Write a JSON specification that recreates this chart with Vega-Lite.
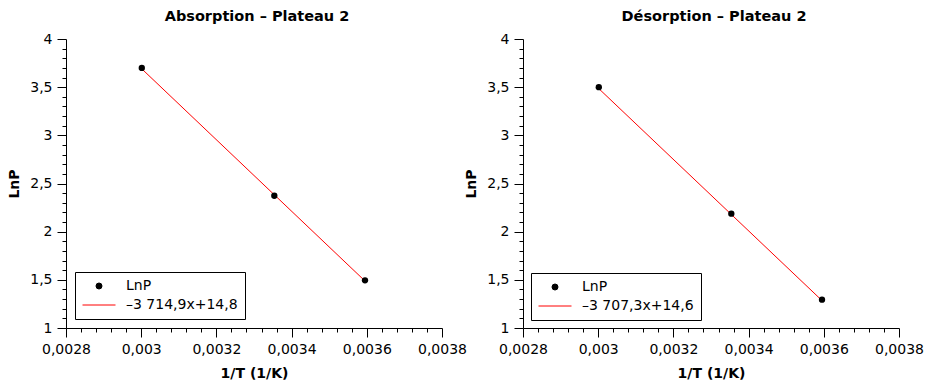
{
  "$schema": "https://vega.github.io/schema/vega-lite/v6.json",
  "background": "white",
  "padding": {"left": 7, "top": 8, "right": 4, "bottom": 4},
  "bounds": "flush",
  "spacing": 81,
  "config": {
    "font": "DejaVu Sans",
    "view": {"stroke": null},
    "axis": {
      "grid": false,
      "domainColor": "black",
      "tickColor": "black",
      "labelColor": "black",
      "titleColor": "black",
      "labelFontSize": 14,
      "titleFontSize": 14,
      "titleFontWeight": "bold",
      "labelFont": "DejaVu Sans",
      "titleFont": "DejaVu Sans",
      "labelOverlap": false,
      "labelFlush": false,
      "labelBound": false,
      "ticks": true,
      "tickOpacity": 1,
      "tickWidth": 1
    },
    "title": {"fontSize": 14.5, "fontWeight": "bold", "font": "DejaVu Sans", "color": "black", "offset": 8, "frame": "group", "dx": 3},
    "legend": {
      "strokeColor": "black",
      "fillColor": "white",
      "padding": 7,
      "orient": "bottom-left",
      "offset": 9,
      "labelFontSize": 14,
      "labelFont": "DejaVu Sans",
      "labelColor": "black",
      "symbolSize": 196,
      "symbolOffset": 0,
      "clipHeight": 14,
      "rowPadding": 5,
      "labelOffset": 10,
      "title": null
    }
  },
  "datasets": {
    "abs_pts": [
      {"x": 0.0030016, "lnp": 3.70, "series": "LnP"},
      {"x": 0.0033540, "lnp": 2.373, "series": "LnP"},
      {"x": 0.0035952, "lnp": 1.495, "series": "LnP"}
    ],
    "abs_fit": [
      {"x": 0.0030016, "lnp": 3.69, "series": "–3 714,9x+14,8"},
      {"x": 0.0035952, "lnp": 1.488, "series": "–3 714,9x+14,8"}
    ],
    "des_pts": [
      {"x": 0.0030016, "lnp": 3.50, "series": "LnP"},
      {"x": 0.0033540, "lnp": 2.187, "series": "LnP"},
      {"x": 0.0035952, "lnp": 1.294, "series": "LnP"}
    ],
    "des_fit": [
      {"x": 0.0030016, "lnp": 3.485, "series": "–3 707,3x+14,6"},
      {"x": 0.0035952, "lnp": 1.285, "series": "–3 707,3x+14,6"}
    ]
  },
  "resolve": {"scale": {"color": "independent"}, "legend": {"color": "independent"}},
  "hconcat": [
    {
      "width": 376,
      "height": 289,
      "title": {"text": "Absorption – Plateau 2"},
      "resolve": {"axis": {"x": "independent", "y": "independent"}},
      "layer": [
        {
          "data": {"name": "abs_fit"},
          "mark": {"type": "line", "strokeWidth": 1},
          "encoding": {
            "x": {
              "field": "x", "type": "quantitative",
              "scale": {"domain": [0.0028, 0.0038], "nice": false, "zero": false},
              "axis": {
                "orient": "bottom",
                "title": "1/T (1/K)",
                "values": [0.0028, 0.003, 0.0032, 0.0034, 0.0036, 0.0038],
                "labelExpr": "replace(format(datum.value, '.4~f'), '.', ',')",
                "tickSize": 9,
                "labelPadding": 5,
                "titlePadding": 10
              }
            },
            "y": {
              "field": "lnp", "type": "quantitative",
              "scale": {"domain": [1, 4], "nice": false, "zero": false},
              "axis": {
                "orient": "left",
                "title": "LnP",
                "values": [1, 1.5, 2, 2.5, 3, 3.5, 4],
                "labelExpr": "replace(format(datum.value, '.1~f'), '.', ',')",
                "tickSize": 9,
                "labelPadding": 5,
                "titlePadding": 8
              }
            },
            "color": {
              "field": "series", "type": "nominal",
              "scale": {"domain": ["LnP", "–3 714,9x+14,8"], "range": ["black", "red"]},
              "legend": {
                "encode": {
                  "symbols": {
                    "update": {
                      "shape": {"signal": "datum.value === 'LnP' ? 'circle' : 'stroke'"},
                      "size": {"signal": "datum.value === 'LnP' ? 36 : 1089"},
                      "fill": {"signal": "datum.value === 'LnP' ? 'black' : 'transparent'"},
                      "stroke": {"signal": "datum.value === 'LnP' ? 'transparent' : '#ff0000'"},
                      "strokeWidth": {"value": 1},
                      "opacity": {"value": 1}
                    }
                  }
                }
              }
            }
          }
        },
        {
          "data": {"name": "abs_pts"},
          "mark": {"type": "point", "filled": true, "size": 40, "opacity": 1},
          "encoding": {
            "x": {
              "field": "x", "type": "quantitative",
              "axis": {
                "orient": "bottom",
                "title": null,
                "domain": false,
                "labels": false,
                "values": [0.00284, 0.00288, 0.00292, 0.00296, 0.00304, 0.00308, 0.00312, 0.00316, 0.00324, 0.00328, 0.00332, 0.00336, 0.00344, 0.00348, 0.00352, 0.00356, 0.00364, 0.00368, 0.00372, 0.00376],
                "tickSize": 4
              }
            },
            "y": {
              "field": "lnp", "type": "quantitative",
              "axis": {
                "orient": "left",
                "title": null,
                "domain": false,
                "labels": false,
                "values": [1.1, 1.2, 1.3, 1.4, 1.6, 1.7, 1.8, 1.9, 2.1, 2.2, 2.3, 2.4, 2.6, 2.7, 2.8, 2.9, 3.1, 3.2, 3.3, 3.4, 3.6, 3.7, 3.8, 3.9],
                "tickSize": 4
              }
            },
            "color": {"field": "series", "type": "nominal"}
          }
        }
      ]
    },
    {
      "width": 376,
      "height": 289,
      "title": {"text": "Désorption – Plateau 2"},
      "resolve": {"axis": {"x": "independent", "y": "independent"}},
      "layer": [
        {
          "data": {"name": "des_fit"},
          "mark": {"type": "line", "strokeWidth": 1},
          "encoding": {
            "x": {
              "field": "x", "type": "quantitative",
              "scale": {"domain": [0.0028, 0.0038], "nice": false, "zero": false},
              "axis": {
                "orient": "bottom",
                "title": "1/T (1/K)",
                "values": [0.0028, 0.003, 0.0032, 0.0034, 0.0036, 0.0038],
                "labelExpr": "replace(format(datum.value, '.4~f'), '.', ',')",
                "tickSize": 9,
                "labelPadding": 5,
                "titlePadding": 10
              }
            },
            "y": {
              "field": "lnp", "type": "quantitative",
              "scale": {"domain": [1, 4], "nice": false, "zero": false},
              "axis": {
                "orient": "left",
                "title": "LnP",
                "values": [1, 1.5, 2, 2.5, 3, 3.5, 4],
                "labelExpr": "replace(format(datum.value, '.1~f'), '.', ',')",
                "tickSize": 9,
                "labelPadding": 5,
                "titlePadding": 8
              }
            },
            "color": {
              "field": "series", "type": "nominal",
              "scale": {"domain": ["LnP", "–3 707,3x+14,6"], "range": ["black", "red"]},
              "legend": {
                "offset": 8,
                "encode": {
                  "symbols": {
                    "update": {
                      "shape": {"signal": "datum.value === 'LnP' ? 'circle' : 'stroke'"},
                      "size": {"signal": "datum.value === 'LnP' ? 36 : 1089"},
                      "fill": {"signal": "datum.value === 'LnP' ? 'black' : 'transparent'"},
                      "stroke": {"signal": "datum.value === 'LnP' ? 'transparent' : '#ff0000'"},
                      "strokeWidth": {"value": 1},
                      "opacity": {"value": 1}
                    }
                  }
                }
              }
            }
          }
        },
        {
          "data": {"name": "des_pts"},
          "mark": {"type": "point", "filled": true, "size": 40, "opacity": 1},
          "encoding": {
            "x": {
              "field": "x", "type": "quantitative",
              "axis": {
                "orient": "bottom",
                "title": null,
                "domain": false,
                "labels": false,
                "values": [0.00284, 0.00288, 0.00292, 0.00296, 0.00304, 0.00308, 0.00312, 0.00316, 0.00324, 0.00328, 0.00332, 0.00336, 0.00344, 0.00348, 0.00352, 0.00356, 0.00364, 0.00368, 0.00372, 0.00376],
                "tickSize": 4
              }
            },
            "y": {
              "field": "lnp", "type": "quantitative",
              "axis": {
                "orient": "left",
                "title": null,
                "domain": false,
                "labels": false,
                "values": [1.1, 1.2, 1.3, 1.4, 1.6, 1.7, 1.8, 1.9, 2.1, 2.2, 2.3, 2.4, 2.6, 2.7, 2.8, 2.9, 3.1, 3.2, 3.3, 3.4, 3.6, 3.7, 3.8, 3.9],
                "tickSize": 4
              }
            },
            "color": {"field": "series", "type": "nominal"}
          }
        }
      ]
    }
  ]
}
